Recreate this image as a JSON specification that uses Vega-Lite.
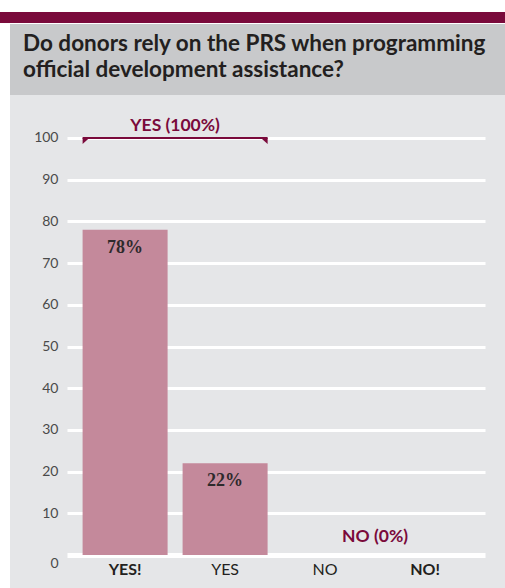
{
  "$schema": "https://vega.github.io/schema/vega-lite/v6.json",
  "background": "white",
  "padding": {"top": 11, "left": 0, "right": 0, "bottom": 0},
  "spacing": 0,
  "config": {"view": {"stroke": null}, "concat": {"spacing": 0}},
  "vconcat": [
    {
      "width": 505,
      "height": 11,
      "view": {"fill": "#7a0a3b", "stroke": null},
      "data": {"values": [{"t": ""}]},
      "mark": {"type": "text"},
      "encoding": {"text": {"field": "t"}}
    },
    {
      "spacing": 0,
      "hconcat": [
        {
          "width": 10,
          "height": 10,
          "view": {"fill": null, "stroke": null},
          "data": {"values": [{"t": ""}]},
          "mark": {"type": "text"},
          "encoding": {"text": {"field": "t"}}
        },
        {
          "spacing": 0,
          "vconcat": [
            {
              "width": 495,
              "height": 71,
              "view": {"fill": "#c8c9cb", "stroke": null},
              "title": {
                "text": ["Do donors rely on the PRS when programming", "official development assistance?"],
                "anchor": "start",
                "frame": "group",
                "orient": "bottom",
                "offset": -62,
                "baseline": "top",
                "dx": 13,
                "font": "Lato",
                "fontSize": 22.5,
                "fontWeight": "bold",
                "color": "#231f20",
                "lineHeight": 26
              },
              "data": {"values": [{"t": ""}]},
              "mark": {"type": "text"},
              "encoding": {"text": {"field": "t"}}
            },
            {
              "width": 495,
              "height": 495,
              "view": {"fill": "#e5e6e8", "stroke": null},
              "layer": [
                {
                  "data": {"values": [
                    {"answer": "YES!", "percent": 78, "label": "78%"},
                    {"answer": "YES", "percent": 22, "label": "22%"},
                    {"answer": "NO", "percent": 0, "label": ""},
                    {"answer": "NO!", "percent": 0, "label": ""}
                  ]},
                  "mark": {"type": "bar", "color": "#c4899b"},
                  "encoding": {
                    "x": {
                      "field": "answer", "type": "nominal", "sort": ["YES!", "YES", "NO", "NO!"],
                      "scale": {"domain": ["YES!", "YES", "NO", "NO!"], "paddingInner": 0.15, "paddingOuter": 0.55, "align": 0.66},
                      "axis": {
                        "orient": "bottom", "offset": -35, "domain": false, "ticks": false, "tickSize": 0,
                        "labelPadding": 6, "labelAngle": 0, "labelFont": "Lato", "labelFontSize": 16, "labelColor": "#231f20",
                        "labelFontWeight": {"condition": {"test": "datum.value === 'YES!' || datum.value === 'NO!'", "value": "bold"}, "value": "normal"},
                        "title": null
                      }
                    },
                    "y": {
                      "field": "percent", "type": "quantitative",
                      "scale": {"domain": [-8.39, 110.31], "nice": false, "zero": false},
                      "axis": {
                        "orient": "left", "offset": -475, "values": [0, 10, 20, 30, 40, 50, 60, 70, 80, 90, 100],
                        "domain": false, "grid": false, "ticks": true, "tickSize": 418, "tickColor": "white",
                        "tickWidth": {"condition": {"test": "datum.value === 0", "value": 5}, "value": 3},
                        "labelPadding": 9, "labelFont": "Lato", "labelFontSize": 14, "labelColor": "#4a4a4a",
                        "labelOffset": {"condition": {"test": "datum.value === 0", "value": 8}, "value": 0},
                        "title": null
                      }
                    },
                    "y2": {"datum": 0}
                  }
                },
                {
                  "data": {"values": [
                    {"answer": "YES!", "percent": 78, "label": "78%"},
                    {"answer": "YES", "percent": 22, "label": "22%"}
                  ]},
                  "mark": {"type": "text", "font": "Liberation Serif", "fontWeight": "bold", "fontSize": 18, "color": "#2e2a2c", "dy": 18, "baseline": "middle"},
                  "encoding": {
                    "x": {"field": "answer", "type": "nominal"},
                    "y": {"field": "percent", "type": "quantitative"},
                    "text": {"field": "label"}
                  }
                },
                {
                  "data": {"values": [{"from": "YES!", "to": "YES", "level": 100}]},
                  "mark": {"type": "rule", "color": "#7a0a3b", "strokeWidth": 2},
                  "encoding": {
                    "x": {"field": "from", "type": "nominal", "bandPosition": 0},
                    "x2": {"field": "to", "bandPosition": 1},
                    "y": {"field": "level", "type": "quantitative"}
                  }
                },
                {
                  "data": {"values": [{"answer": "YES!", "level": 100}]},
                  "mark": {"type": "point", "shape": "M0,0 L1,0 L0,0.9 Z", "size": 180, "filled": true, "color": "#7a0a3b", "opacity": 1},
                  "encoding": {
                    "x": {"field": "answer", "type": "nominal", "bandPosition": 0},
                    "y": {"field": "level", "type": "quantitative"}
                  }
                },
                {
                  "data": {"values": [{"answer": "YES", "level": 100}]},
                  "mark": {"type": "point", "shape": "M0,0 L-1,0 L0,0.9 Z", "size": 180, "filled": true, "color": "#7a0a3b", "opacity": 1},
                  "encoding": {
                    "x": {"field": "answer", "type": "nominal", "bandPosition": 1},
                    "y": {"field": "level", "type": "quantitative"}
                  }
                },
                {
                  "data": {"values": [{"answer": "YES!", "level": 100, "label": "YES (100%)"}]},
                  "mark": {"type": "text", "font": "Lato", "fontWeight": "bold", "fontSize": 17.5, "color": "#7a0a3b", "baseline": "middle", "align": "center", "dy": -12},
                  "encoding": {
                    "x": {"field": "answer", "type": "nominal", "bandPosition": 1.088},
                    "y": {"field": "level", "type": "quantitative"},
                    "text": {"field": "label"}
                  }
                },
                {
                  "data": {"values": [{"answer": "NO", "level": 0, "label": "NO (0%)"}]},
                  "mark": {"type": "text", "font": "Lato", "fontWeight": "bold", "fontSize": 17.5, "color": "#7a0a3b", "baseline": "middle", "align": "center", "dy": -18},
                  "encoding": {
                    "x": {"field": "answer", "type": "nominal", "bandPosition": 1.088},
                    "y": {"field": "level", "type": "quantitative"},
                    "text": {"field": "label"}
                  }
                }
              ]
            }
          ]
        }
      ]
    }
  ]
}
